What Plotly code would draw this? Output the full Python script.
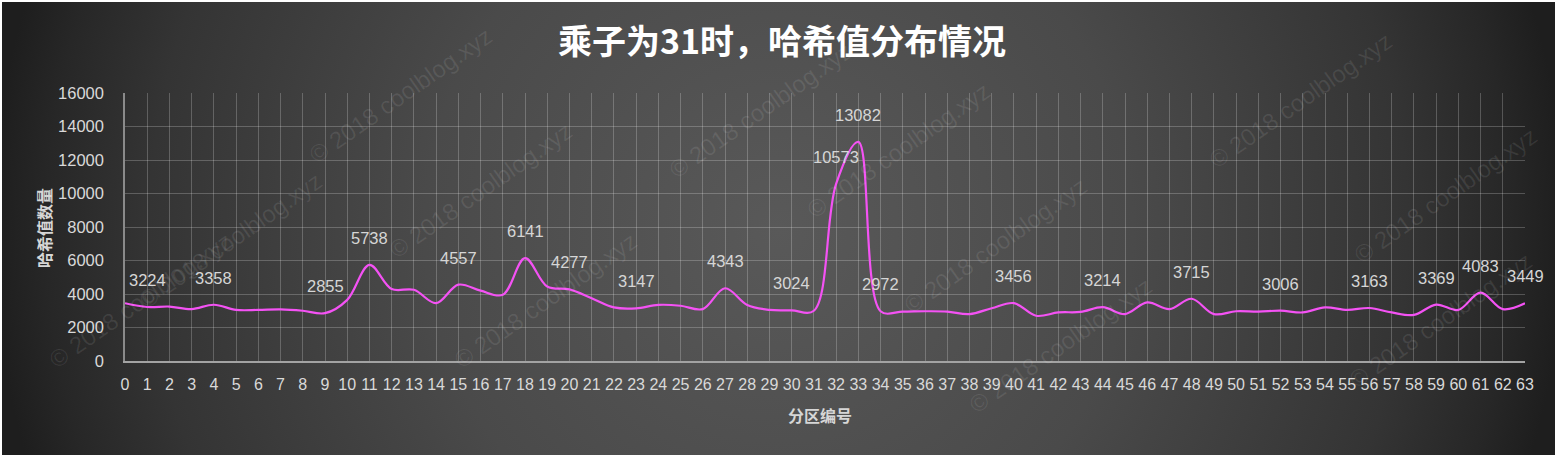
import base64
import plotly.graph_objects as go

# ---- data ----
partitions = list(range(64))
hash_counts = [
    3450, 3224, 3250, 3100, 3358, 3050, 3050, 3080, 3000, 2855,
    3650, 5738, 4300, 4250, 3450, 4557, 4200, 3950, 6141, 4450,
    4277, 3750, 3200, 3147, 3350, 3300, 3100, 4343, 3350, 3050,
    3024, 3000, 10573, 13082, 2972, 2950, 2970, 2950, 2800, 3150,
    3456, 2700, 2900, 2930, 3214, 2800, 3500, 3100, 3715, 2800,
    2970, 2950, 3006, 2900, 3200, 3050, 3163, 2900, 2750, 3369,
    3050, 4083, 3100, 3449,
]
labeled_partitions = [1, 4, 9, 11, 15, 18, 20, 23, 27, 30, 32, 33, 34,
                      40, 44, 48, 52, 56, 59, 61, 63]
y_ticks = [0, 2000, 4000, 6000, 8000, 10000, 12000, 14000, 16000]

title_text = "乘子为31时，哈希值分布情况"
x_title = "分区编号"
y_title = "哈希值数量"
watermark = "© 2018 coolblog.xyz"

# ---- geometry (pixels) ----
W, H = 1564, 458
L, R, T, B = 125, 39, 93, 97
PW, PH = W - L - R, H - T - B


def px_to_paper(px, py):
    return (px - L) / PW, (H - B - py) / PH


# ---- background gradient as svg ----
bw, bh = 1553, 453
svg = f'''<svg xmlns="http://www.w3.org/2000/svg" width="{bw}" height="{bh}" viewBox="0 0 {bw} {bh}" preserveAspectRatio="none">
<defs><radialGradient id="g" gradientUnits="userSpaceOnUse" cx="{bw/2}" cy="{bh/2}" r="{bw/2+10}">
<stop offset="0" stop-color="#595959"/>
<stop offset="0.45" stop-color="#4a4a4a"/>
<stop offset="0.8" stop-color="#343434"/>
<stop offset="0.93" stop-color="#272727"/>
<stop offset="1" stop-color="#1e1e1e"/>
</radialGradient></defs>
<rect x="0" y="0" width="{bw}" height="{bh}" fill="url(#g)"/>
</svg>'''
src = "data:image/svg+xml;base64," + base64.b64encode(svg.encode()).decode()
ix, iy = px_to_paper(2, 2)

fig = go.Figure()
fig.add_trace(go.Scatter(
    x=partitions, y=hash_counts, mode="lines",
    line=dict(color="#f452f4", width=2.2, shape="spline", smoothing=1.0),
    hoverinfo="x+y", showlegend=False,
))

annotations = []
# data labels
for i in labeled_partitions:
    annotations.append(dict(
        x=partitions[i], y=hash_counts[i], xref="x", yref="y",
        text=str(hash_counts[i]), showarrow=False, yshift=27,
        xanchor="center", yanchor="middle",
        font=dict(family="Liberation Sans, Arial, sans-serif", size=16.5, color="#d6d6d6"),
    ))

# watermarks (kept inside the picture)
wm_centers = [(140, 300), (400, 95), (480, 190), (545, 300), (760, 110),
              (898, 150), (995, 245), (1060, 345), (1300, 100), (1445, 195),
              (1440, 320), (230, 240)]
for cx, cy in wm_centers:
    ax_, ay_ = px_to_paper(cx, cy)
    annotations.append(dict(
        x=ax_, y=ay_, xref="paper", yref="paper", text=watermark,
        showarrow=False, textangle=-35, xanchor="center", yanchor="middle",
        font=dict(family="Liberation Sans, Arial, sans-serif", size=24,
                  color="rgba(255,255,255,0.09)"),
    ))

# axis titles
xtx, xty = px_to_paper(820, 415)
annotations.append(dict(x=xtx, y=xty, xref="paper", yref="paper",
                        text="<b>" + x_title + "</b>", showarrow=False,
                        xanchor="center", yanchor="middle",
                        font=dict(family="Noto Sans CJK SC", size=16, color="#d6d6d6")))
ytx, yty = px_to_paper(44, 228)
annotations.append(dict(x=ytx, y=yty, xref="paper", yref="paper",
                        text="<b>" + y_title + "</b>", showarrow=False, textangle=-90,
                        xanchor="center", yanchor="middle",
                        font=dict(family="Noto Sans CJK SC", size=16, color="#d6d6d6")))

fig.update_layout(
    width=W, height=H,
    margin=dict(l=L, r=R, t=T, b=B, pad=0),
    paper_bgcolor="#ffffff",
    plot_bgcolor="rgba(0,0,0,0)",
    title=dict(text="<b>" + title_text + "</b>", x=0.5, xref="container",
               y=1 - 42 / H, yref="container", xanchor="center", yanchor="middle",
               font=dict(family="Noto Sans CJK SC", size=34, color="#ffffff")),
    images=[dict(source=src, xref="paper", yref="paper", x=ix, y=iy,
                 sizex=bw / PW, sizey=bh / PH, xanchor="left", yanchor="top",
                 sizing="stretch", layer="below")],
    annotations=annotations,
    xaxis=dict(range=[0, 63], tickmode="array", tickvals=partitions,
               ticktext=[str(p) for p in partitions],
               showgrid=True, gridcolor="rgba(255,255,255,0.22)", gridwidth=1,
               showline=True, linecolor="#a3a3a3", linewidth=2,
               ticks="", ticklabelstandoff=8, zeroline=False,
               tickfont=dict(family="Liberation Sans, Arial, sans-serif", size=16, color="#d9d9d9")),
    yaxis=dict(range=[0, 16000], tickmode="array", tickvals=y_ticks,
               ticktext=[str(v) for v in y_ticks],
               showgrid=True, gridcolor="rgba(255,255,255,0.22)", gridwidth=1,
               showline=True, linecolor="#8a8a8a", linewidth=1.5,
               ticks="", ticklabelstandoff=16, zeroline=False,
               tickfont=dict(family="Liberation Sans, Arial, sans-serif", size=16.5, color="#d9d9d9")),
)

fig.write_html("out.html", config={"displayModeBar": False},
               post_script="document.body.style.margin='0';")
